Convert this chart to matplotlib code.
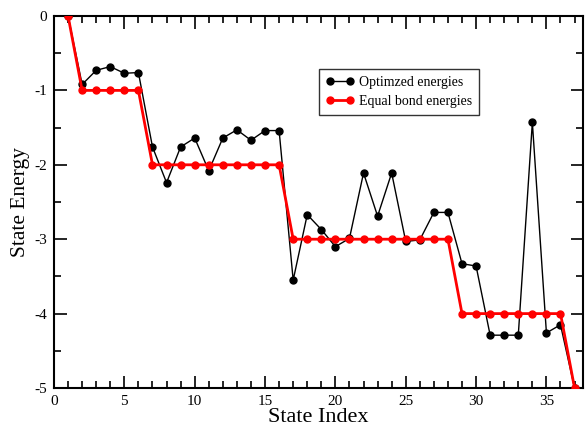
import matplotlib
matplotlib.use("Agg")
import matplotlib.pyplot as plt
from matplotlib.ticker import MultipleLocator

state_index = list(range(1, 38))
optimized = [0.0, -0.92, -0.73, -0.68, -0.77, -0.76, -1.76, -2.24, -1.76, -1.64,
             -2.08, -1.64, -1.53, -1.67, -1.54, -1.54, -3.55, -2.67, -2.87, -3.10,
             -2.99, -2.11, -2.69, -2.11, -3.03, -3.01, -2.64, -2.64, -3.33, -3.36,
             -4.29, -4.29, -4.29, -1.43, -4.26, -4.15, -5.0]
equal_bond = [0] + [-1] * 5 + [-2] * 10 + [-3] * 12 + [-4] * 8 + [-5]

plt.rcParams['font.family'] = ['Liberation Serif', 'DejaVu Serif']
plt.rcParams['axes.unicode_minus'] = False

fig = plt.figure(figsize=(5.85, 4.28), dpi=100)
ax = fig.add_axes([54 / 585, 1 - 388 / 428, (583 - 54) / 585, (388 - 16) / 428])

ax.plot(state_index, optimized, color='black', lw=1.0, marker='o', ms=5,
        label='Optimzed energies', zorder=2)
ax.plot(state_index, equal_bond, color='red', lw=2.0, marker='o', ms=5,
        label='Equal bond energies', zorder=3)

ax.set_xlim(0, 37.6)
ax.set_ylim(-5, 0)
ax.xaxis.set_major_locator(MultipleLocator(5))
ax.xaxis.set_minor_locator(MultipleLocator(1))
ax.yaxis.set_major_locator(MultipleLocator(1))
ax.yaxis.set_minor_locator(MultipleLocator(0.5))
ax.tick_params(which='both', direction='in', top=True, right=True, labelsize=11, width=1.2)
ax.tick_params(which='major', length=9)
ax.tick_params(which='minor', length=5)
ax.tick_params(axis='x', pad=5)
ax.tick_params(axis='y', pad=5)
for s in ax.spines.values():
    s.set_linewidth(1.5)

ax.set_xlabel('State Index', fontsize=16, labelpad=0)
ax.set_ylabel('State Energy', fontsize=15.5, labelpad=3)

leg = ax.legend(loc='upper left', bbox_to_anchor=((319 - 54) / 529, 1 - (69 - 16) / 372),
                fontsize=10, frameon=True, fancybox=False, edgecolor='black',
                handlelength=2.0, numpoints=2, borderpad=0.5, labelspacing=0.45,
                handletextpad=0.4, borderaxespad=0)
leg.get_frame().set_linewidth(1.0)

fig.savefig('out.png', dpi=100)
